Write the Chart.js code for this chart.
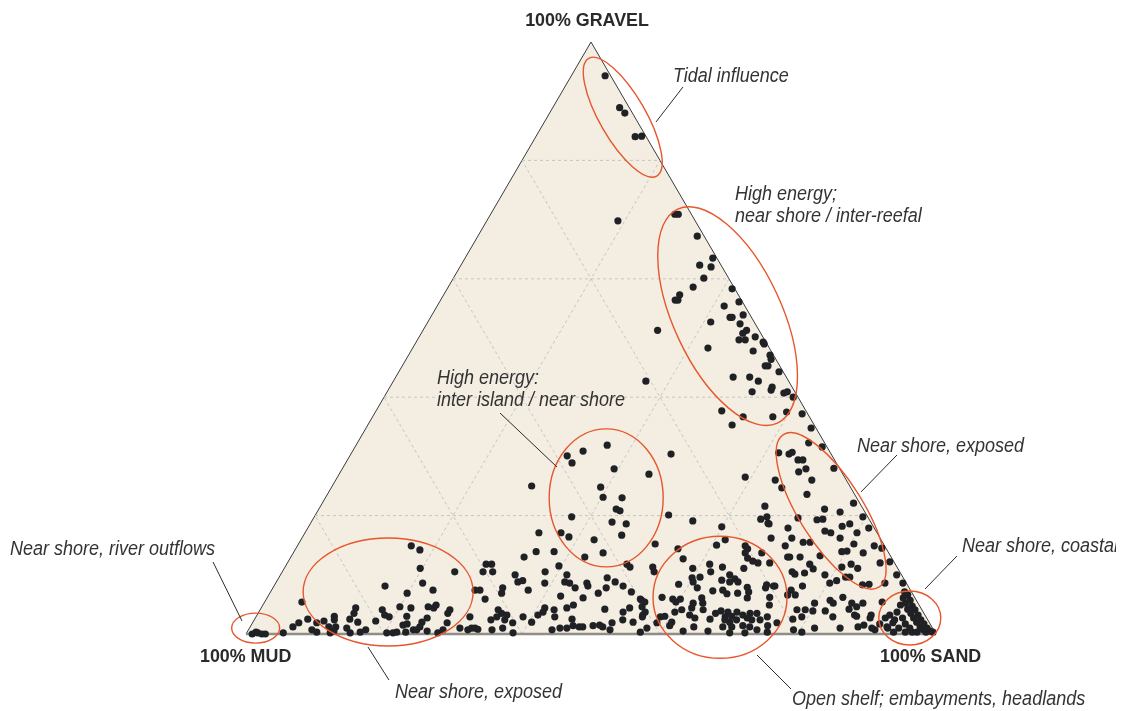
<!DOCTYPE html>
<html>
<head>
<meta charset="utf-8">
<script src="https://cdn.jsdelivr.net/npm/chart.js@4.4.1/dist/chart.umd.min.js"></script>
<style>
html,body{margin:0;padding:0;background:#ffffff;}
canvas{display:block;}
</style>
</head>
<body>
<canvas id="c" width="1128" height="711"></canvas>
<script>
// ---- Sample composition (percent gravel / percent sand; mud = 100 - gravel - sand) ----
const gravel = [
  // tidal influence
  94.3,88.9,88.0,84.0,84.1,
  // high energy near shore / inter-reefal
  70.9,70.9,69.8,67.2,63.5,62.3,62.0,60.1,58.6,57.3,56.4,56.4,58.3,
  56.1,55.4,53.5,53.5,53.9,52.7,52.4,51.3,51.3,50.8,49.7,49.7,50.2,
  49.3,49.0,48.3,47.8,47.1,46.4,45.3,45.3,44.3,43.4,43.4,42.7,40.9,
  41.7,41.2,40.7,40.9,40.0,42.7,37.7,36.7,35.3,36.7,37.5,37.2,34.8,
  // inter island
  31.9,30.9,30.1,28.9,30.4,27.9,27.0,25.0,24.8,23.1,23.0,21.1,20.8,19.8,20.1,18.9,
  18.6,17.1,17.1,16.4,15.9,16.7,15.2,13.9,13.9,13.7,13.0,11.5,11.8,11.3,11.3,
  // near shore exposed (sand side)
  31.6,32.3,30.6,30.4,30.7,29.4,29.4,27.9,27.4,28.0,26.0,26.0,
  24.7,23.6,22.1,21.6,21.1,20.6,19.4,19.8,18.7,19.6,19.3,19.4,
  19.8,18.2,18.6,17.9,17.9,17.4,17.1,17.1,16.2,16.2,16.2,15.5,
  15.5,15.2,14.9,14.9,14.0,13.9,14.5,13.7,13.2,13.0,13.7,11.8,
  11.8,11.3,12.0,12.2,11.0,10.5,10.1,10.0,9.6,9.6,10.0,9.0,
  8.3,8.1,8.1,8.6,8.3,8.4,8.6,8.6,26.5,
  // near shore coastal
  7.1,6.6,6.1,5.7,5.2,4.7,4.2,4.1,3.5,3.2,2.7,2.4,2.0,1.7,1.2,
  1.0,0.7,0.5,0.3,0.3,4.9,3.7,2.7,2.4,1.7,1.0,1.0,3.2,2.7,1.9,
  0.3,0.3,0.3,1.0,1.7,0.7,0.3,2.7,1.5,4.6,5.2,1.2,3.2,5.4,11.1,
  7.4,6.6,5.7,5.2,6.2,5.2,4.2,3.2,5.2,3.9,4.1,
  4.1,3.9,2.9,3.0,2.5,1.0,1.0,1.0,0.3,1.2,
  // open shelf
  19.1,18.1,18.6,14.4,15.0,15.9,14.9,14.4,13.7,12.7,12.8,12.3,12.0,
  12.0,13.0,13.0,10.5,11.1,11.8,10.5,11.3,11.1,10.3,9.5,8.8,9.6,
  10.0,9.3,8.8,9.1,8.8,8.4,7.8,7.3,7.4,6.8,6.9,7.9,7.1,
  7.8,8.1,6.2,6.1,6.6,6.2,5.9,5.4,5.9,5.2,6.1,5.2,5.9,
  5.4,4.9,4.4,4.1,4.1,3.7,3.5,3.9,2.9,3.7,3.0,3.7,3.2,
  3.5,3.5,2.4,2.0,1.2,2.4,2.4,2.7,2.4,2.9,1.4,1.9,2.9,
  3.2,2.7,2.5,0.5,0.5,2.0,3.0,2.9,1.9,1.0,1.4,1.2,1.2,
  1.4,1.2,0.7,0.2,0.2,0.3,0.7,3.2,
  // mid shelf
  13.0,11.8,11.8,10.5,10.5,10.0,8.8,9.0,10.5,8.6,10.0,8.8,8.6,8.6,8.1,
  9.5,8.8,7.8,7.4,7.8,6.9,7.4,7.4,6.9,7.8,8.1,7.1,5.7,6.4,6.1,
  5.9,4.4,4.1,4.4,4.9,4.2,3.7,4.4,4.6,4.1,3.5,2.9,2.4,3.2,2.4,
  2.9,2.9,1.9,2.0,3.2,3.7,2.9,2.5,1.4,1.2,1.2,1.4,1.5,1.2,1.9,
  0.7,2.4,2.0,2.9,3.7,1.0,1.0,0.7,1.0,0.2,0.7,1.0,1.0,0.3,1.0,
  // near shore exposed (mud side) and river outflows
  14.9,14.2,11.1,10.5,8.6,8.1,7.4,6.9,5.4,4.4,3.5,4.1,3.2,
  2.9,4.6,4.4,4.6,4.9,4.4,4.1,3.5,2.5,1.9,1.2,1.9,2.2,
  3.0,2.4,1.2,1.2,1.0,2.5,2.0,2.2,3.0,1.7,1.5,0.7,0.7,
  2.0,2.7,1.2,0.5,1.9,0.7,0.7,0.3,0.2,0.5,0.2,0.3,0.7,
  0.2,0.2,0.3,0.3,0.2,0.7,0.8,0.2,0.0,0.2,0.3,0.0,0.0
];
const sand = [
  4.9,9.7,10.9,14.4,15.3,
  26.7,27.2,19.0,31.8,35.9,34.6,36.4,36.3,35.5,34.2,34.0,34.4,41.3,
  43.4,41.6,43.4,43.7,45.1,41.0,45.4,34.0,46.9,46.6,46.6,47.5,48.7,
  50.3,50.6,42.8,49.6,52.4,52.9,52.6,53.0,55.1,48.9,51.3,52.9,52.9,
  55.4,55.5,57.6,58.0,59.3,36.6,50.1,53.7,52.8,58.0,59.6,62.0,64.5,
  36.4,33.4,31.5,32.8,46.4,39.4,44.9,28.9,39.0,40.2,43.0,43.1,43.8,37.3,51.2,43.6,
  45.8,33.9,37.1,38.6,42.5,46.1,51.7,35.1,37.7,44.9,42.6,39.6,49.3,50.0,53.3,
  67.7,65.4,61.9,63.5,63.8,65.3,66.0,67.2,66.4,71.2,63.7,69.0,
  65.3,69.5,77.0,64.4,73.3,75.8,64.9,65.6,66.3,70.2,73.1,73.9,
  79.5,77.3,78.2,69.6,81.3,75.2,76.2,80.0,68.0,71.0,78.0,73.0,
  74.0,80.5,70.7,83.6,80.1,79.4,84.9,82.6,76.6,72.3,67.9,75.8,
  81.8,80.7,85.9,87.2,76.7,73.9,74.5,78.9,82.1,82.7,89.3,81.1,
  71.3,72.6,76.6,80.3,85.2,86.1,88.3,90.9,59.1,
  91.9,92.6,92.2,93.4,93.0,94.2,93.8,94.9,94.6,95.8,95.4,96.6,96.2,97.4,97.1,
  98.2,97.8,98.9,98.4,99.4,92.4,92.5,93.8,92.8,94.7,94.1,95.7,91.7,91.3,92.8,
  96.4,95.4,97.1,92.5,91.0,90.8,93.7,89.1,88.8,86.2,86.8,88.1,86.6,89.5,83.1,
  75.3,76.3,81.8,82.5,83.4,85.2,85.3,89.0,79.8,80.2,79.0,
  77.8,82.0,83.6,87.0,78.0,81.9,85.6,90.2,80.4,92.3,
  55.2,59.9,66.5,55.4,60.7,61.5,64.9,65.5,65.5,57.0,66.3,67.3,68.2,
  69.9,72.0,73.8,53.9,59.2,61.3,62.1,63.4,66.6,75.8,59.9,60.4,61.0,
  65.1,66.2,66.9,64.4,65.7,58.5,61.5,64.0,65.4,66.3,67.8,68.7,69.3,
  71.4,72.4,72.8,69.6,75.2,57.2,58.9,59.6,60.0,62.2,63.0,63.6,54.2,
  55.1,73.4,62.4,64.2,61.1,60.3,66.3,66.9,68.0,68.0,68.9,69.3,70.4,
  71.3,72.3,73.3,69.1,69.8,69.9,68.2,71.3,72.1,74.1,74.9,76.0,79.1,
  62.7,63.7,66.0,66.7,63.1,60.7,59.2,58.6,58.6,57.6,60.7,64.3,68.5,
  71.3,72.4,73.7,72.2,70.0,75.4,79.0,55.9,
  33.8,28.9,29.7,29.1,30.5,34.0,35.0,35.6,38.1,39.0,41.5,41.8,42.6,45.1,45.5,
  47.6,49.1,43.8,37.2,33.3,33.6,29.5,30.2,47.6,48.3,50.6,52.3,54.5,42.4,45.8,
  31.7,41.1,42.6,44.3,45.0,49.9,52.8,53.4,55.1,34.5,35.3,34.9,36.3,36.2,34.3,
  31.0,38.7,37.7,40.4,40.7,41.2,43.3,46.0,46.7,47.7,48.2,49.6,50.5,51.1,52.1,
  52.4,53.4,55.1,56.0,56.0,32.2,32.7,35.3,36.7,38.6,44.0,45.0,46.0,57.0,30.5,
  16.5,18.1,19.7,25.0,21.3,16.1,23.4,19.9,5.4,13.7,13.9,17.7,18.5,
  19.3,20.0,21.7,24.1,25.1,25.0,27.5,27.5,7.7,6.7,6.2,9.3,10.2,
  11.3,11.6,11.4,12.4,14.1,13.8,15.2,17.7,21.8,22.5,22.0,23.9,24.4,
  24.5,24.9,24.6,26.0,28.2,31.8,9.2,10.1,12.1,12.5,15.0,16.4,17.0,
  20.3,21.2,21.7,23.0,27.7,28.2,33.2,5.3,0.9,1.6,1.3,2.3,2.8
];

// grid levels (percent) and corner labels
const gridSteps = [20, 40, 60, 80];
const cornerLabels = ['100% GRAVEL', '100% MUD', '100% SAND'];

// environment zones: ellipse centre in plot units, semi-axes (px), rotation (deg)
const zoneNames = [
  ['Tidal influence'],
  ['High energy;', 'near shore / inter-reefal'],
  ['High energy:', 'inter island / near shore'],
  ['Near shore, exposed'],
  ['Near shore, coastal'],
  ['Open shelf; embayments, headlands'],
  ['Near shore, exposed'],
  ['Near shore, river outflows']
];
const zoneEllipses = [
  {x:54.6, y:87.3, a:68,  b:23, rot:60},
  {x:69.8, y:53.7, a:118, b:54, rot:65},
  {x:52.2, y:23.0, a:57,  b:69, rot:0},
  {x:84.8, y:20.8, a:90,  b:32, rot:58},
  {x:96.2, y:2.7,  a:31,  b:27, rot:0},
  {x:68.7, y:6.2,  a:67,  b:61, rot:0},
  {x:20.6, y:7.1,  a:85,  b:54, rot:0},
  {x:1.4,  y:1.0,  a:24,  b:15, rot:0}
];
// label anchor (left, baseline) in plot units
const zoneLabelPos = [
  {x:61.88, y:93.24},
  {x:70.87, y:73.31},
  {x:27.68, y:42.23},
  {x:88.55, y:30.74},
  {x:103.77, y:13.85},
  {x:79.13, y:-11.99},
  {x:21.59, y:-10.81},
  {x:-34.20, y:13.34}
];
// leader lines [x1,y1,x2,y2] in plot units
const zoneLeaders = [
  [63.33, 92.40, 59.42, 86.49],
  null,
  [36.81, 37.33, 45.07, 28.21],
  [94.35, 30.24, 89.13, 23.99],
  [103.04, 13.18, 98.41, 7.60],
  [74.06, -3.55, 78.99, -9.29],
  [17.68, -2.20, 20.72, -7.77],
  [-4.78, 12.16, -0.58, 2.20]
];

// ---- build datasets ----
const toXY = (g, s) => ({x: s + g / 2, y: g});
const samplePoints = gravel.map((g, i) => toXY(g, sand[i]));

const gridSets = [];
gridSteps.forEach(s => {
  const segs = [
    [toXY(s, 0), toXY(s, 100 - s)],          // constant gravel
    [toXY(0, s), toXY(100 - s, s)],          // constant sand
    [toXY(0, 100 - s), toXY(100 - s, 0)]     // constant mud
  ];
  segs.forEach(seg => gridSets.push({
    type: 'line', data: seg, borderColor: '#c6c6c2', borderWidth: 1,
    borderDash: [3, 3], pointRadius: 0, fill: false, order: 2, clip: false
  }));
});

const triangle = [toXY(0, 0), toXY(100, 0), toXY(0, 100)];

const zonePlugin = {
  id: 'zones',
  afterDatasetsDraw(chart) {
    const ctx = chart.ctx, xs = chart.scales.x, ys = chart.scales.y;
    const X = v => xs.getPixelForValue(v), Y = v => ys.getPixelForValue(v);
    ctx.save();
    // ellipses
    ctx.strokeStyle = '#e8562c';
    ctx.lineWidth = 1.4;
    zoneEllipses.forEach(e => {
      ctx.beginPath();
      ctx.ellipse(X(e.x), Y(e.y), e.a, e.b, e.rot * Math.PI / 180, 0, Math.PI * 2);
      ctx.stroke();
    });
    // leaders
    ctx.strokeStyle = '#2b2b2b';
    ctx.lineWidth = 1;
    zoneLeaders.forEach(l => {
      if (!l) return;
      ctx.beginPath();
      ctx.moveTo(X(l[0]), Y(l[1]));
      ctx.lineTo(X(l[2]), Y(l[3]));
      ctx.stroke();
    });
    // labels
    ctx.beginPath();
    ctx.rect(0, 0, chart.width - 12, chart.height);
    ctx.clip();
    ctx.fillStyle = '#333333';
    ctx.font = 'italic 20px "Liberation Sans", Arial, sans-serif';
    ctx.textBaseline = 'alphabetic';
    zoneNames.forEach((lines, i) => {
      const p = zoneLabelPos[i];
      lines.forEach((t, k) => {
        ctx.save();
        ctx.translate(X(p.x), Y(p.y) + k * 22);
        ctx.scale(0.9, 1);
        ctx.textAlign = 'left';
        ctx.fillText(t, 0, 0);
        ctx.restore();
      });
    });
    // corner labels
    ctx.fillStyle = '#2a2a2a';
    ctx.font = 'bold 19px "Liberation Sans", Arial, sans-serif';
    const corners = [
      {x:49.42, y:102.7, align:'center'},
      {x:-6.67, y:-4.73, align:'left'},
      {x:91.88, y:-4.73, align:'left'}
    ];
    cornerLabels.forEach((t, i) => {
      const c = corners[i];
      ctx.save();
      ctx.translate(X(c.x), Y(c.y));
      ctx.scale(0.94, 1);
      ctx.textAlign = c.align;
      ctx.fillText(t, 0, 0);
      ctx.restore();
    });
    ctx.restore();
  }
};

new Chart(document.getElementById('c'), {
  type: 'scatter',
  data: {
    datasets: [
      {
        label: 'Samples', data: samplePoints, order: 0,
        pointRadius: 3.6, pointHoverRadius: 3.6,
        pointBackgroundColor: '#1f2125', pointBorderWidth: 0, clip: false
      },
      {
        type: 'line', data: [toXY(0, 0), toXY(0, 100)], borderColor: '#8e8d86',
        borderWidth: 2.5, pointRadius: 0, fill: false, order: 1, clip: false
      },
      ...gridSets,
      {
        type: 'line', data: triangle, borderColor: '#3a3a3a', borderWidth: 1,
        backgroundColor: '#f3ede2', fill: 'origin', pointRadius: 0, order: 3, clip: false
      }
    ]
  },
  options: {
    responsive: false,
    devicePixelRatio: 1,
    animation: false,
    events: [],
    layout: {padding: {left: 246, right: 192, top: 42, bottom: 77}},
    scales: {
      x: {type: 'linear', min: 0, max: 100, display: false},
      y: {type: 'linear', min: 0, max: 100, display: false}
    },
    plugins: {legend: {display: false}, tooltip: {enabled: false}, title: {display: false}}
  },
  plugins: [zonePlugin]
});
</script>
</body>
</html>
